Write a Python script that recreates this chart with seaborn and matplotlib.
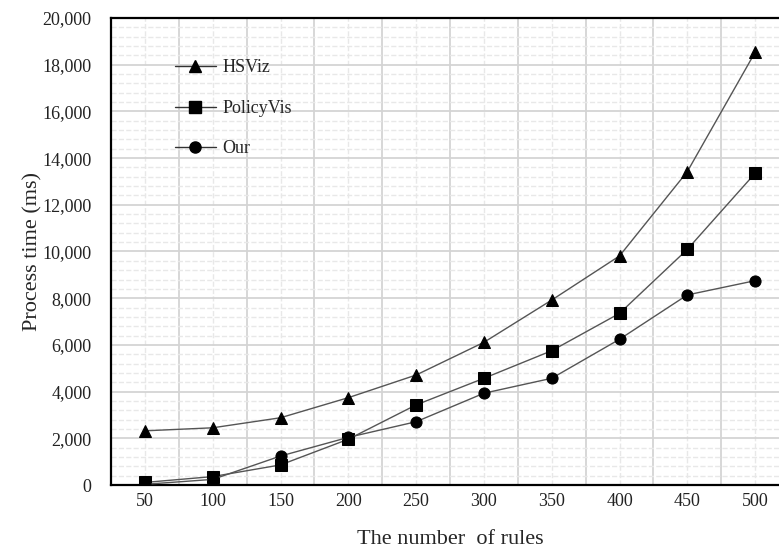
import numpy as np
import pandas as pd
import matplotlib
matplotlib.use('Agg')
import matplotlib.pyplot as plt
import seaborn as sns

#%% data
rules = ['50', '100', '150', '200', '250', '300', '350', '400', '450', '500']
hsviz = [2320, 2450, 2880, 3740, 4710, 6110, 7920, 9810, 13420, 18530]
policyvis = [110, 360, 860, 1960, 3430, 4570, 5750, 7350, 10090, 13350]
our = [30, 240, 1240, 2040, 2710, 3930, 4570, 6240, 8140, 8750]
series_names = ['HSViz', 'PolicyVis', 'Our']

df = pd.DataFrame({
    'pos': list(range(len(rules))) * 3,
    'time': hsviz + policyvis + our,
    'method': [n for n in series_names for _ in rules],
})

#%% plot
sns.set_style('white')
plt.rcParams['font.family'] = ['Liberation Serif', 'DejaVu Serif']

fig = plt.figure(figsize=(7.79, 5.52), dpi=100)
ax = fig.add_axes([111 / 779, 67 / 552, 678 / 779, 467 / 552])

sns.lineplot(
    data=df, x='pos', y='time', hue='method', style='method',
    palette={n: '#555555' for n in series_names},
    markers={'HSViz': '^', 'PolicyVis': 's', 'Our': 'o'},
    dashes=False, linewidth=1.0, markersize=8,
    markerfacecolor='black', markeredgecolor='black',
    ax=ax, legend=False, zorder=3,
)

ax.set_xlim(-0.5, len(rules) - 0.5)
ax.set_ylim(0, 20000)

# ticks: boundaries as major, centres carry labels
ax.set_xticks(np.arange(-0.5, len(rules), 1))
ax.set_xticklabels([])
ax.set_xticks(np.arange(len(rules)), minor=True)
ax.set_xticklabels(rules, minor=True)
ax.tick_params(axis='x', which='major', direction='in', length=4, width=1.2, color='black')
ax.tick_params(axis='x', which='minor', length=0, pad=6, labelsize=13, labelcolor='#222222')

ax.set_yticks(np.arange(0, 20001, 2000))
ax.set_yticklabels([f'{v:,}' for v in range(0, 20001, 2000)])
ax.set_yticks(np.arange(0, 20001, 400), minor=True)
ax.tick_params(axis='y', which='both', length=0, pad=14, labelsize=13, labelcolor='#222222')

ax.grid(which='major', color='#d4d4d4', linewidth=1.3, linestyle='-')
ax.grid(which='minor', color='#e8e8e8', linewidth=1.0, linestyle='--')
ax.set_axisbelow(True)

for side in ['left', 'bottom', 'top']:
    ax.spines[side].set_color('black')
    ax.spines[side].set_linewidth(1.6)
ax.spines['right'].set_visible(False)

ax.set_xlabel('The number  of rules', fontsize=16, labelpad=14)
ax.set_ylabel('Process time (ms)', fontsize=16, labelpad=0)

# legend
handles = [
    plt.Line2D([], [], color='#333333', lw=1.0, marker=m, markersize=8,
               markerfacecolor='black', markeredgecolor='black')
    for m in ['^', 's', 'o']
]
ax.legend(handles, series_names, loc='upper left', bbox_to_anchor=(0.07, 0.946),
          frameon=False, handlelength=2.3, labelspacing=1.3, handletextpad=0.35,
          fontsize=13)

fig.savefig('out.png', dpi=100)
